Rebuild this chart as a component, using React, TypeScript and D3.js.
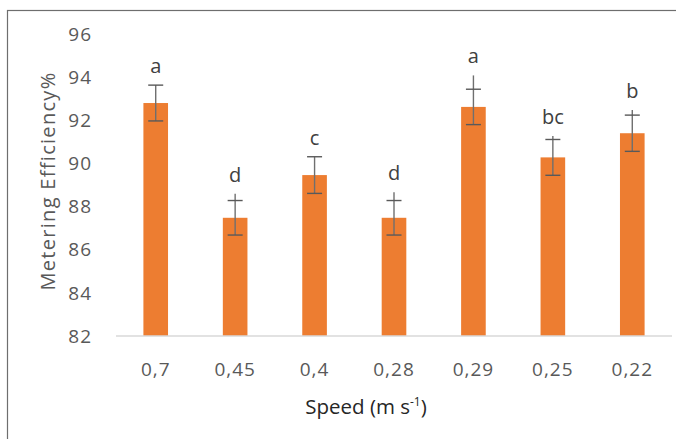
import React from "react";
import * as d3 from "d3";

const categories = ["0,7", "0,45", "0,4", "0,28", "0,29", "0,25", "0,22"];
const values = [92.8, 87.48, 89.46, 87.48, 92.62, 90.28, 91.4];
const errors = [0.83, 0.8, 0.85, 0.8, 0.82, 0.83, 0.84];
const whiskerTops = [93.63, 88.6, 90.31, 88.66, 94.08, 91.27, 92.48];
const letters = ["a", "d", "c", "d", "a", "bc", "b"];
const yTicks = [82, 84, 86, 88, 90, 92, 94, 96];

const W = 676;
const H = 439;

export default function App() {
  const x = d3
    .scaleBand<string>()
    .domain(categories)
    .range([116, 672])
    .paddingInner(0.69)
    .paddingOuter(0.345);
  const y = d3.scaleLinear().domain([82, 96]).range([336, 34]);
  const bw = x.bandwidth();
  const font = "'Open Sans', 'Noto Sans', sans-serif";

  return (
    <svg
      width={W}
      height={H}
      style={{ position: "absolute", left: 0, top: 0, background: "#fff" }}
      fontFamily={font}
    >
      <rect x={7.5} y={10.5} width={800} height={600} fill="#fff" stroke="#6e6e6e" strokeWidth={1.2} />
      {yTicks.map((t) => (
        <text
          key={t}
          x={92}
          y={y(t)}
          dy="0.35em"
          textAnchor="end"
          fontSize={19}
          letterSpacing={1}
          fill="#595959"
        >
          {t}
        </text>
      ))}
      {categories.map((c, i) => {
        const cx = (x(c) as number) + bw / 2;
        const v = values[i];
        const e = errors[i];
        const capW = 15;
        return (
          <g key={c}>
            <rect x={x(c)} y={y(v)} width={bw} height={y(82) - y(v)} fill="#ED7D31" />
            <line x1={cx} x2={cx} y1={y(whiskerTops[i])} y2={y(v - e)} stroke="#6f6f6f" strokeWidth={1.4} />
            <line x1={cx - capW / 2} x2={cx + capW / 2} y1={y(v + e)} y2={y(v + e)} stroke="#595959" strokeWidth={1.4} />
            <line x1={cx - capW / 2} x2={cx + capW / 2} y1={y(v - e)} y2={y(v - e)} stroke="#595959" strokeWidth={1.4} />
            <text
              x={cx}
              y={y(Math.max(whiskerTops[i], v + e)) - 12}
              textAnchor="middle"
              fontSize={20}
              fill="#404040"
            >
              {letters[i]}
            </text>
            <text
              x={cx}
              y={y(82) + 40}
              textAnchor="middle"
              fontSize={19}
              letterSpacing={1}
              fill="#595959"
            >
              {c}
            </text>
          </g>
        );
      })}
      <line x1={116} x2={672} y1={y(82)} y2={y(82)} stroke="#d9d9d9" strokeWidth={1.5} />
      <text
        transform={`translate(55, ${181}) rotate(-90)`}
        textAnchor="middle"
        fontSize={20}
        letterSpacing={1.3}
        fill="#595959"
      >
        Metering Efficiency%
      </text>
      <text x={366} y={414} textAnchor="middle" fontSize={20.5} fill="#262626">
        Speed (m s
        <tspan fontSize={12} dy={-8}>-1</tspan>
        <tspan dy={8}>)</tspan>
      </text>
    </svg>
  );
}
